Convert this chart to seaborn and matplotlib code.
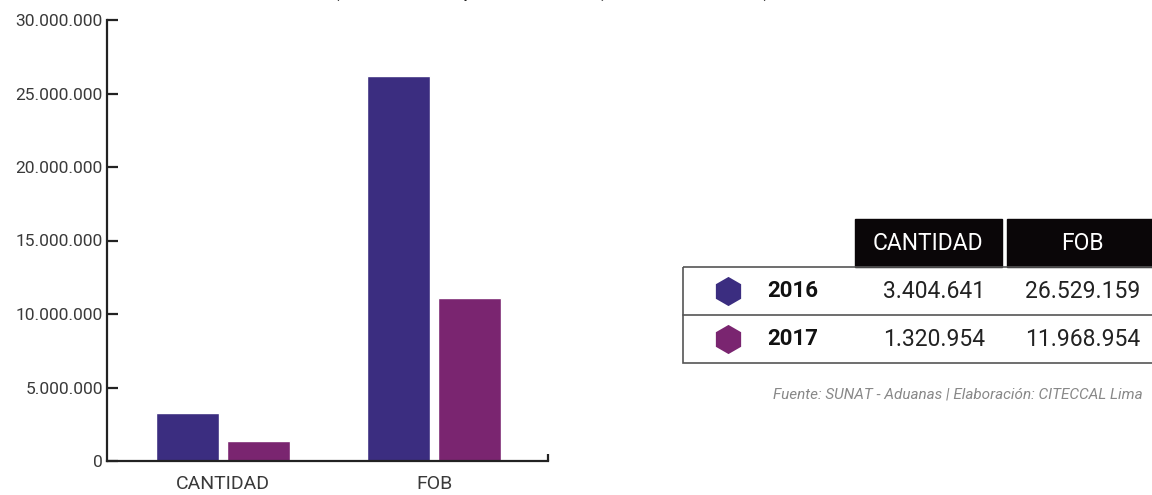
import matplotlib
matplotlib.use("Agg")
import matplotlib.pyplot as plt
import seaborn as sns
import pandas as pd
from matplotlib.patches import Rectangle
from matplotlib.ticker import FuncFormatter, FixedLocator

# data
categories = ["CANTIDAD", "FOB"]
years = ["2016", "2017"]
bar_2016 = [3290000, 26200000]
bar_2017 = [1340000, 11090000]
table_2016 = ["3.404.641", "26.529.159"]
table_2017 = ["1.320.954", "11.968.954"]
yticks = [0, 5000000, 10000000, 15000000, 20000000, 25000000, 30000000]
colors = ["#3b2d80", "#7a2570"]
title_txt = "(Cantidad en pares anuales) Valor FOB total)"
source_txt = "Fuente: SUNAT - Aduanas | Elaboración: CITECCAL Lima"

df = pd.DataFrame({
    "cat": categories * 2,
    "year": [years[0]] * 2 + [years[1]] * 2,
    "val": bar_2016 + bar_2017,
})

sns.set_theme(style="white")
plt.rcParams["font.family"] = ["Roboto", "DejaVu Sans"]

fig = plt.figure(figsize=(11.52, 4.95), dpi=100)
ax = fig.add_axes([107 / 1152, 34 / 495, 441 / 1152, 441 / 495])

sns.barplot(data=df, x="cat", y="val", hue="year", palette=colors,
            width=0.67, gap=0.105, saturation=1, legend=False, ax=ax)

ax.set_xlim(-0.55, 1.54)
ax.set_ylim(0, 30000000)
ax.set_yticks(yticks)
ax.yaxis.set_major_formatter(FuncFormatter(lambda v, p: f"{int(v):,}".replace(",", ".")))
ax.set_xlabel("")
ax.set_ylabel("")
for s in ["top", "right"]:
    ax.spines[s].set_visible(False)
for s in ["left", "bottom"]:
    ax.spines[s].set_color("#222222")
    ax.spines[s].set_linewidth(1.6)
ax.tick_params(axis="y", direction="in", length=8, width=1.6, color="#222222",
               labelsize=12.5, labelcolor="#3a3a3a", pad=3, left=True)
ax.tick_params(axis="x", length=0, labelsize=14, labelcolor="#3a3a3a", pad=10)
ax.xaxis.set_minor_locator(FixedLocator([1.54]))
ax.tick_params(axis="x", which="minor", direction="in", length=5, width=1.6,
               color="#222222", bottom=True)

# overlay in pixel coordinates for the title remnant and the table
ov = fig.add_axes([0, 0, 1, 1], zorder=5)
ov.set_xlim(0, 1152)
ov.set_ylim(495, 0)
ov.axis("off")
ov.patch.set_alpha(0)

# only the bottom of the title's descenders is inside the picture
ov.text(332, -4.5, title_txt, fontsize=16, color="#222222", ha="left", va="baseline",
        clip_on=True)

# header cells
ov.add_patch(Rectangle((855, 219), 147, 48, color="#0a0608"))
ov.add_patch(Rectangle((1007, 219), 150, 48, color="#0a0608"))
ov.text(928, 244, categories[0], color="white", fontsize=16.5, ha="center", va="center")
ov.text(1082, 244, categories[1], color="white", fontsize=16.5, ha="center", va="center")

# row frame
ov.add_patch(Rectangle((683, 267), 480, 96, fill=False, edgecolor="#555555", lw=1.2))
ov.plot([683, 1160], [315, 315], color="#555555", lw=1.2)

rows = [(291, years[0], table_2016, colors[0]), (339, years[1], table_2017, colors[1])]
for y, yr, vals, c in rows:
    ov.plot([728], [y], marker="h", markersize=21, color=c, markeredgewidth=0)
    ov.text(767, y, yr, fontsize=16, fontweight="bold", color="#111111", va="center")
    ov.text(985, y, vals[0], fontsize=16.5, color="#222222", ha="right", va="center")
    ov.text(1140, y, vals[1], fontsize=16.5, color="#222222", ha="right", va="center")

ov.text(1143, 394, source_txt, fontsize=11, style="italic", color="#888888",
        ha="right", va="center")

fig.savefig("out.png", dpi=100)
